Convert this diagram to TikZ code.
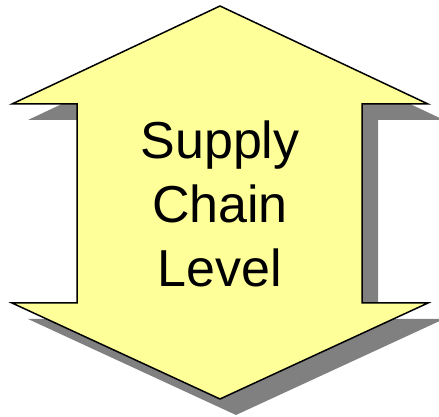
\documentclass[tikz,border=0pt]{standalone}
\usepackage{fontspec}
\setmainfont{Liberation Sans}
\definecolor{arrowfill}{HTML}{FFFF99}
\definecolor{shadowgray}{HTML}{808080}
\begin{document}
\begin{tikzpicture}[x=1pt,y=1pt,
  arrowshape/.style={fill=arrowfill, draw=black, line width=1.5pt, line join=miter},
  shadowshape/.style={fill=shadowgray, draw=none},
  label/.style={font=\fontsize{52}{64}\selectfont, align=center, inner sep=0pt, text=black}]
\useasboundingbox (0,0) rectangle (439,417);
\begin{scope}[shift={(16,-16)}]
\fill[shadowshape] (220,411) -- (428,313) -- (362,313) -- (362,114) -- (428,114) -- (220,18) -- (12,114) -- (77,114) -- (77,313) -- (12,313) -- cycle;
\end{scope}
\draw[arrowshape] (220,411) -- (428,313) -- (362,313) -- (362,114) -- (428,114) -- (220,18) -- (12,114) -- (77,114) -- (77,313) -- (12,313) -- cycle;
\node[label] (txt) at (220,213.5) {Supply\\Chain\\Level};
\end{tikzpicture}
\end{document}
